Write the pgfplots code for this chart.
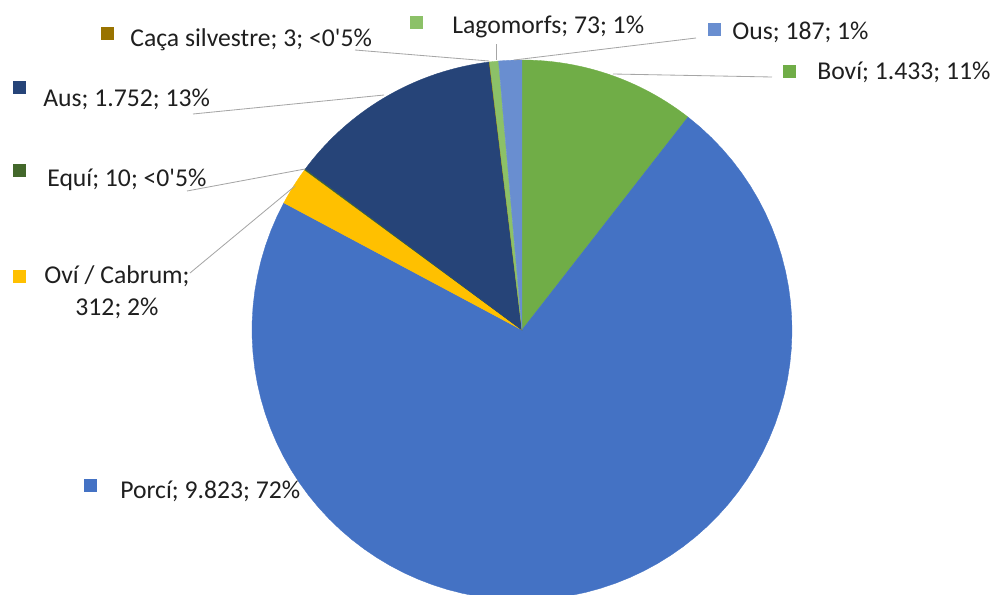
\documentclass[border=0pt]{standalone}
\usepackage{fontspec}
\setmainfont{Carlito}
\usepackage{pgfplots}
\pgfplotsset{compat=1.18}
\definecolor{cBovi}{HTML}{70AD47}
\definecolor{cPorci}{HTML}{4472C4}
\definecolor{cOvi}{HTML}{FFC000}
\definecolor{cEqui}{HTML}{43682B}
\definecolor{cAus}{HTML}{264478}
\definecolor{cCaca}{HTML}{997300}
\definecolor{cLago}{HTML}{8CC168}
\definecolor{cOus}{HTML}{698ED0}
\definecolor{leader}{HTML}{A6A6A6}
% values (caps), clockwise from 12 o'clock
\pgfmathsetmacro\tot{1433+9823+312+10+1752+3+73+187}
\pgfmathsetmacro\aA{0}
\pgfmathsetmacro\aB{\aA+1433/\tot*360}
\pgfmathsetmacro\aC{\aB+9823/\tot*360}
\pgfmathsetmacro\aD{\aC+312/\tot*360}
\pgfmathsetmacro\aE{\aD+10/\tot*360}
\pgfmathsetmacro\aF{\aE+1752/\tot*360}
\pgfmathsetmacro\aG{\aF+3/\tot*360}
\pgfmathsetmacro\aH{\aG+73/\tot*360}
\pgfmathsetmacro\aI{\aH+187/\tot*360}
\newcommand\q{\textquotesingle}

\begin{document}
\begin{tikzpicture}[
  lbl/.style={anchor=base west, inner sep=0pt, font=\fontsize{15.4}{18}\selectfont, text=black!88},
  ]
\begin{axis}[
  scale only axis, width=597pt, height=357pt,
  xmin=0, xmax=995, ymin=0, ymax=595, y dir=reverse,
  hide axis, clip=true,
  slice/.style={draw=#1, line width=0.2pt, fill=#1, samples=80, mark=none},
]
\path (axis cs:0,0) (axis cs:995,595);
\addplot[slice=cBovi, domain=\aA:\aB] ({522+270*sin(x)},{330-270*cos(x)}) -- (axis cs:522,330) -- cycle;
\addplot[slice=cPorci, domain=\aB:\aC] ({522+270*sin(x)},{330-270*cos(x)}) -- (axis cs:522,330) -- cycle;
\addplot[slice=cOvi, domain=\aC:\aD] ({522+270*sin(x)},{330-270*cos(x)}) -- (axis cs:522,330) -- cycle;
\addplot[slice=cEqui, domain=\aD:\aE, samples=2] ({522+270*sin(x)},{330-270*cos(x)}) -- (axis cs:522,330) -- cycle;
\addplot[slice=cAus, domain=\aE:\aF] ({522+270*sin(x)},{330-270*cos(x)}) -- (axis cs:522,330) -- cycle;
\addplot[slice=cCaca, domain=\aF:\aG, samples=2] ({522+270*sin(x)},{330-270*cos(x)}) -- (axis cs:522,330) -- cycle;
\addplot[slice=cLago, domain=\aG:\aH, samples=4] ({522+270*sin(x)},{330-270*cos(x)}) -- (axis cs:522,330) -- cycle;
\addplot[slice=cOus, domain=\aH:\aI, samples=8] ({522+270*sin(x)},{330-270*cos(x)}) -- (axis cs:522,330) -- cycle;

% leader lines
\draw[leader, line width=0.5pt] (axis cs:355,50) -- (axis cs:489,61);
\draw[leader, line width=0.5pt] (axis cs:496,44) -- (axis cs:496,60);
\draw[leader, line width=0.5pt] (axis cs:696,38) -- (axis cs:514,60);
\draw[leader, line width=0.5pt] (axis cs:772,77) -- (axis cs:613,74);
\draw[leader, line width=0.5pt] (axis cs:193,114) -- (axis cs:384,95);
\draw[leader, line width=0.5pt] (axis cs:187,191) -- (axis cs:305,169);
\draw[leader, line width=0.5pt] (axis cs:190,273) -- (axis cs:295,186);

% labels
\fill[cCaca] (axis cs:101,27) rectangle (axis cs:114,40);
\node[lbl] at (axis cs:130,46) {Caça silvestre; 3; <0\q5\%};
\fill[cLago] (axis cs:410,16) rectangle (axis cs:423,29);
\node[lbl] at (axis cs:452,34) {Lagomorfs; 73; 1\%};
\fill[cOus] (axis cs:708,23) rectangle (axis cs:721,36);
\node[lbl] at (axis cs:732,39) {Ous; 187; 1\%};
\fill[cBovi] (axis cs:783,65) rectangle (axis cs:796,78);
\node[lbl] at (axis cs:817,79) {Boví; 1.433; 11\%};
\fill[cAus] (axis cs:13,81) rectangle (axis cs:26,94);
\node[lbl] at (axis cs:43,106) {Aus; 1.752; 13\%};
\fill[cEqui] (axis cs:13,164) rectangle (axis cs:26,177);
\node[lbl] at (axis cs:47,186) {Equí; 10; <0\q5\%};
\fill[cOvi] (axis cs:13,270) rectangle (axis cs:26,283);
\node[lbl, anchor=base] at (axis cs:117,283) {Oví / Cabrum;};
\node[lbl, anchor=base] at (axis cs:117,315) {312; 2\%};
\fill[cPorci] (axis cs:84,479) rectangle (axis cs:97,492);
\node[lbl] at (axis cs:120,498) {Porcí; 9.823; 72\%};
\end{axis}
\end{tikzpicture}
\end{document}
